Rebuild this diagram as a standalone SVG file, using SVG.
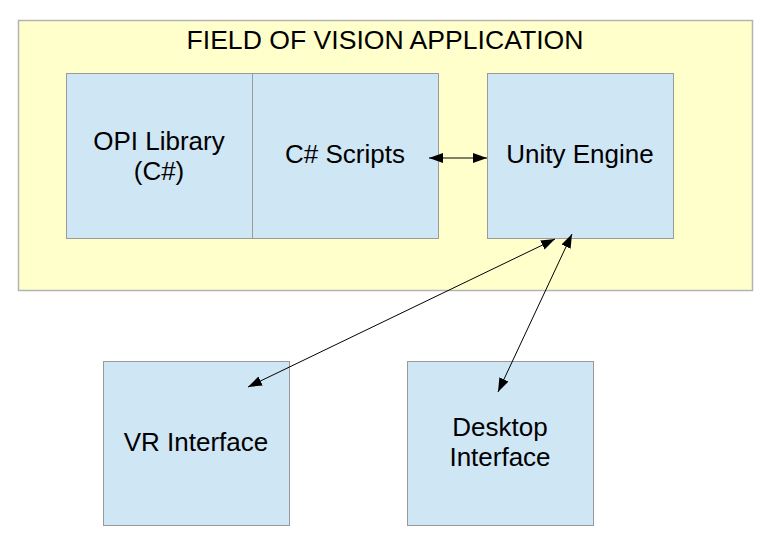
<svg xmlns="http://www.w3.org/2000/svg" width="774" height="549" viewBox="0 0 774 549">
<style>
.box{fill:#cfe6f4;stroke:#9a9a9a;stroke-width:1}
.t{font-family:"Liberation Sans",Arial,sans-serif;font-size:26px;fill:#000;text-anchor:middle}
.c{stroke:#000;stroke-width:1;fill:none;marker-start:url(#ah);marker-end:url(#ah)}
</style>
<defs>
<marker id="ah" viewBox="0 0 14 10" refX="14" refY="5" markerWidth="14" markerHeight="10" markerUnits="userSpaceOnUse" orient="auto-start-reverse">
<path d="M0,0 L14,5 L0,10 Z" fill="#000"/>
</marker>
</defs>
<g id="app">
<rect x="18.5" y="20.5" width="734" height="270" fill="#ffffcc" stroke="#b3b3b3" stroke-width="1.5"/>
<text x="385" y="49" font-family="'Liberation Sans Narrow','Liberation Sans',Arial,sans-serif" font-size="26" text-anchor="middle" textLength="397" lengthAdjust="spacingAndGlyphs">FIELD OF VISION APPLICATION</text>
</g>
<g id="opi">
<rect class="box" x="66.5" y="73.5" width="186" height="165"/>
<text class="t" x="159" y="150">OPI Library</text>
<text class="t" x="159" y="180">(C#)</text>
</g>
<g id="scripts">
<rect class="box" x="252.5" y="73.5" width="186" height="165"/>
<text class="t" x="345" y="163">C# Scripts</text>
</g>
<g id="unity">
<rect class="box" x="487.5" y="73.5" width="186" height="165"/>
<text class="t" x="580" y="163">Unity Engine</text>
</g>
<g id="vr">
<rect class="box" x="103.5" y="361.5" width="186" height="164"/>
<text class="t" x="196" y="451">VR Interface</text>
</g>
<g id="desktop">
<rect class="box" x="407.5" y="361.5" width="186" height="164"/>
<text class="t" x="500" y="436">Desktop</text>
<text class="t" x="500" y="466">Interface</text>
</g>
<g id="connectors">
<line class="c" x1="429" y1="158" x2="487" y2="158"/>
<line class="c" x1="248" y1="387" x2="555" y2="239"/>
<line class="c" x1="498" y1="392" x2="572" y2="234"/>
</g>
</svg>
